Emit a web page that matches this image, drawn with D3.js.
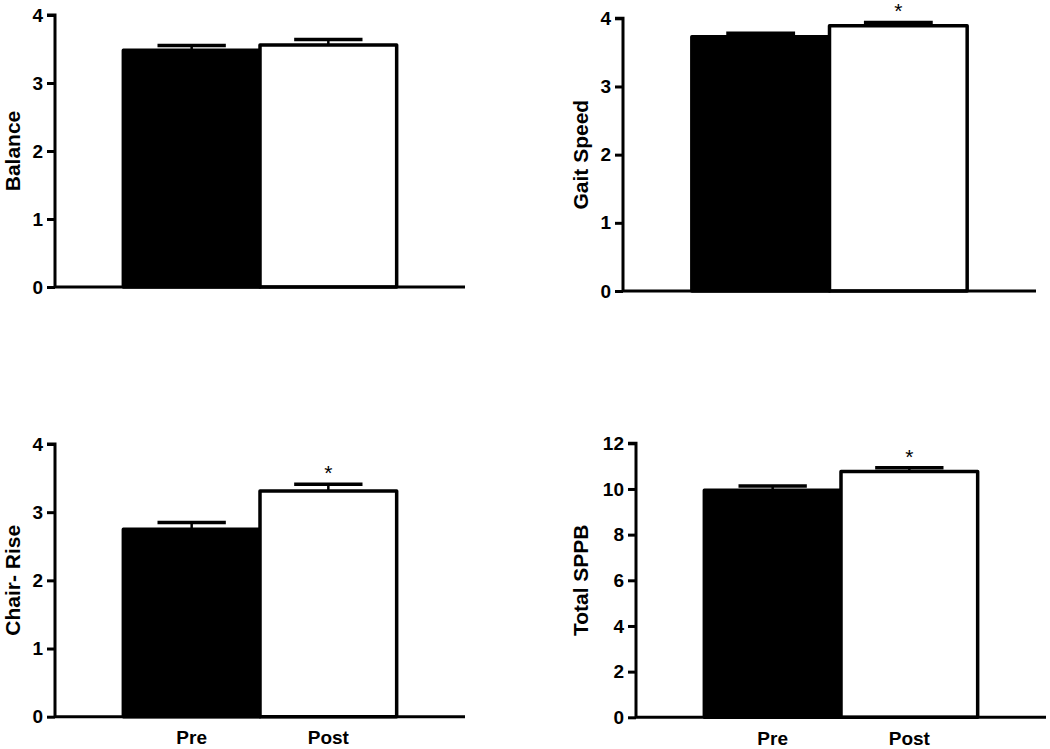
<!DOCTYPE html>
<html>
<head>
<meta charset="utf-8">
<script src="https://cdn.jsdelivr.net/npm/d3@7"></script>
<style>
  html, body { margin: 0; padding: 0; background: #fff; }
  svg { display: block; }
  text { font-family: "Liberation Sans", Arial, sans-serif; }
</style>
</head>
<body>
<svg id="chart" width="1050" height="749"></svg>
<script>
// ---- data ----
const categories = ["Pre", "Post"];
const titles = ["Balance", "Gait Speed", "Chair- Rise", "Total SPPB"];
const balanceMean = [3.48, 3.56];
const balanceSem  = [0.07, 0.08];
const gaitMean    = [3.73, 3.89];
const gaitSem     = [0.05, 0.05];
const chairMean   = [2.75, 3.31];
const chairSem    = [0.10, 0.10];
const sppbMean    = [9.94, 10.76];
const sppbSem     = [0.19, 0.17];
const yMaxes      = [4, 4, 4, 12];
const yTickSteps  = [1, 1, 1, 2];
const significant = [false, true, true, true];

// ---- layout (positions only) ----
const layout = [
  { x0: 55,  x1: 465,  yTop: 15,    yBot: 287,   titleX: 20,  showX: false },
  { x0: 623, x1: 1036, yTop: 18.3,  yBot: 291,   titleX: 588, showX: false },
  { x0: 55,  x1: 465,  yTop: 444,   yBot: 716.7, titleX: 20,  showX: true  },
  { x0: 636, x1: 1046, yTop: 443.3, yBot: 717.3, titleX: 588, showX: true  }
];
const means = [balanceMean, gaitMean, chairMean, sppbMean];
const sems  = [balanceSem, gaitSem, chairSem, sppbSem];

const svg = d3.select("#chart");

layout.forEach((L, i) => {
  const g = svg.append("g");
  const y = d3.scaleLinear().domain([0, yMaxes[i]]).range([L.yBot, L.yTop]);
  const x = d3.scaleBand().domain(categories).range([L.x0, L.x1])
              .paddingInner(0).paddingOuter(0.5);
  const bw = x.bandwidth();
  const data = categories.map((c, k) => ({ c, m: means[i][k], s: sems[i][k] }));

  // error bars
  data.forEach((d, k) => {
    const cx = x(d.c) + bw / 2;
    g.append("line")
      .attr("x1", cx).attr("x2", cx)
      .attr("y1", y(d.m)).attr("y2", y(d.m + d.s))
      .attr("stroke", "#000").attr("stroke-width", 2.5);
    g.append("line")
      .attr("x1", cx - bw / 4).attr("x2", cx + bw / 4)
      .attr("y1", y(d.m + d.s)).attr("y2", y(d.m + d.s))
      .attr("stroke", "#000").attr("stroke-width", 3.5);
  });

  // bars
  g.selectAll("rect.bar").data(data).join("rect")
    .attr("class", "bar")
    .attr("x", d => x(d.c))
    .attr("width", bw)
    .attr("y", d => y(d.m))
    .attr("height", d => y(0) - y(d.m))
    .attr("fill", (d, k) => k === 0 ? "#000" : "#fff")
    .attr("stroke", "#000")
    .attr("stroke-width", 3.5)
    .attr("stroke-linejoin", "round");

  // y axis
  const ticks = d3.range(0, yMaxes[i] + 0.001, yTickSteps[i]);
  const yAxis = d3.axisLeft(y).tickValues(ticks).tickSize(8).tickPadding(4)
                  .tickFormat(d3.format("d"));
  const ya = g.append("g").attr("transform", `translate(${L.x0},0)`).call(yAxis);
  ya.select(".domain").attr("stroke", "#000").attr("stroke-width", 3)
    .attr("d", `M-8,${L.yTop}H0V${L.yBot}`);
  ya.selectAll(".tick line").attr("stroke", "#000").attr("stroke-width", 3);
  ya.selectAll(".tick text")
    .attr("font-size", 19).attr("font-weight", "bold").attr("fill", "#000")
    .attr("font-family", "'Liberation Sans', Arial, sans-serif");

  // x axis
  const xAxis = d3.axisBottom(x).tickSize(0).tickPadding(14);
  const xa = g.append("g").attr("transform", `translate(0,${L.yBot})`).call(xAxis);
  xa.select(".domain").attr("stroke", "#000").attr("stroke-width", 3)
    .attr("d", `M${L.x0},0H${L.x1}`);
  xa.selectAll(".tick text")
    .attr("font-size", 19).attr("font-weight", "bold").attr("fill", "#000")
    .attr("font-family", "'Liberation Sans', Arial, sans-serif")
    .style("display", L.showX ? null : "none");

  // y title
  g.append("text")
    .attr("transform", `translate(${L.titleX},${(L.yTop + L.yBot) / 2}) rotate(-90)`)
    .attr("text-anchor", "middle")
    .attr("font-size", 21).attr("font-weight", "bold")
    .text(titles[i]);

  // significance asterisk
  if (significant[i]) {
    const d = data[1];
    g.append("text")
      .attr("x", x(d.c) + bw / 2)
      .attr("y", y(d.m + d.s) - 4)
      .attr("text-anchor", "middle")
      .attr("font-size", 21)
      .text("*");
  }
});
</script>
</body>
</html>
